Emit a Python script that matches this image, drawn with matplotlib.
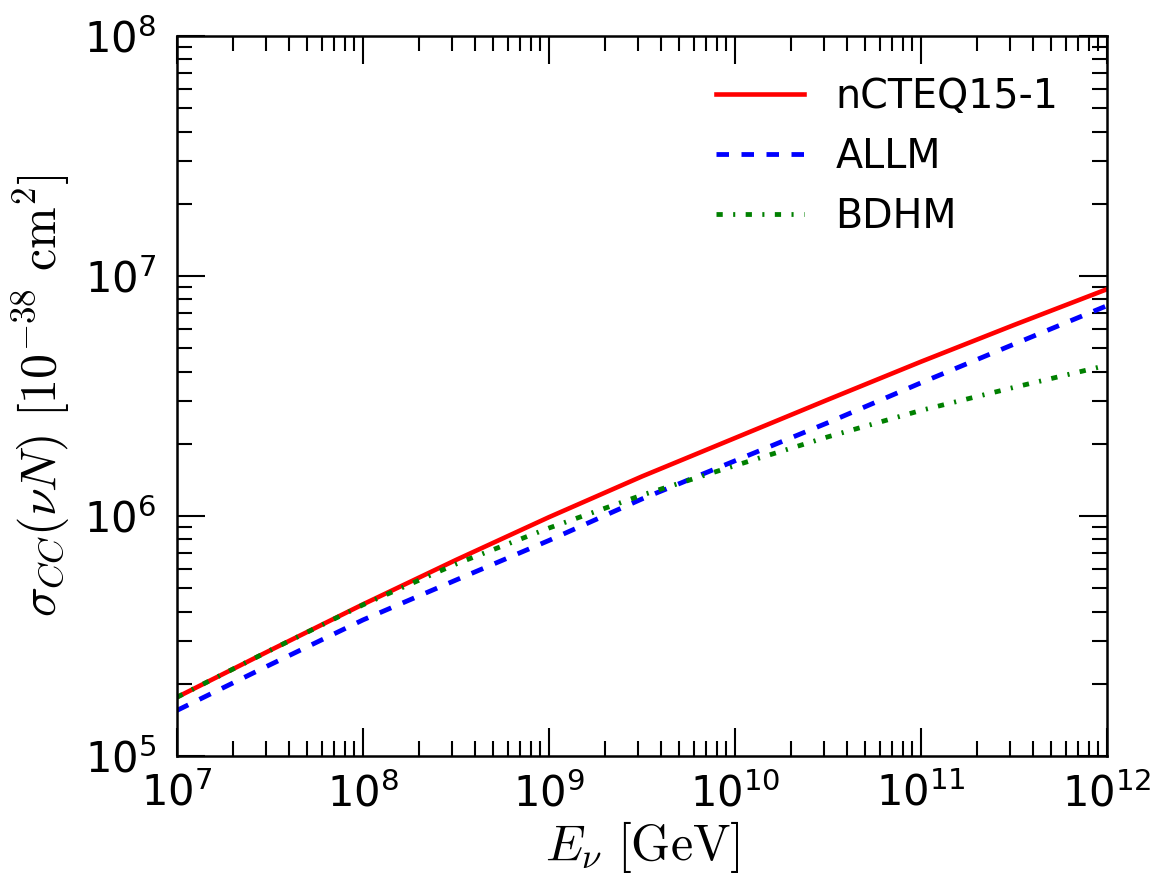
import numpy as np
import matplotlib
matplotlib.use("Agg")
import matplotlib.pyplot as plt
from matplotlib.ticker import LogLocator, LogFormatterMathtext

plt.rcParams['mathtext.fontset'] = 'cm'
plt.rcParams['font.family'] = ['DejaVu Sans']
plt.rcParams['lines.scale_dashes'] = False

# Data: log10 of energy [GeV] and cross sections [1e-38 cm^2]
logE = [7.0, 7.5, 8.0, 8.5, 9.0, 9.5, 10.0, 10.5, 11.0, 11.5, 12.0]
nCTEQ15_1 = [1.758e5, 2.754e5, 4.285e5, 6.56e5, 9.89e5, 1.462e6, 2.113e6, 3.055e6, 4.395e6, 6.25e6, 8.81e6]
ALLM = [1.549e5, 2.399e5, 3.69e5, 5.41e5, 7.91e5, 1.178e6, 1.698e6, 2.449e6, 3.589e6, 5.2e6, 7.52e6]
BDHM = [1.758e5, 2.754e5, 4.266e5, 6.31e5, 8.91e5, 1.222e6, 1.622e6, 2.138e6, 2.754e6, 3.436e6, 4.246e6]

energy = [10 ** v for v in logE]

fig = plt.figure(figsize=(1171 / 150, 893 / 150), dpi=150)
ax = fig.add_axes([177 / 1171, 1 - 756 / 893, (1107 - 177) / 1171, (756 - 36) / 893])

ax.plot(energy, nCTEQ15_1, color='r', lw=2.2, ls='-', label='nCTEQ15-1')
ax.plot(energy, ALLM, color='b', lw=2.3, ls=(0, (6, 6)), label='ALLM')
ax.plot(energy, BDHM, color='g', lw=2.3, ls=(0, (3, 5, 1, 5)), label='BDHM')

ax.set_xscale('log')
ax.set_yscale('log')
ax.set_xlim(1e7, 1e12)
ax.set_ylim(1e5, 1e8)

ax.xaxis.set_major_locator(LogLocator(base=10, numticks=20))
ax.yaxis.set_major_locator(LogLocator(base=10, numticks=20))
ax.xaxis.set_minor_locator(LogLocator(base=10, subs=np.arange(2, 10), numticks=20))
ax.yaxis.set_minor_locator(LogLocator(base=10, subs=np.arange(2, 10), numticks=20))
ax.xaxis.set_major_formatter(LogFormatterMathtext())
ax.yaxis.set_major_formatter(LogFormatterMathtext())

ax.tick_params(which='both', direction='in', top=True, right=True, width=1, labelsize=20)
ax.tick_params(which='major', length=13.5)
ax.tick_params(which='minor', length=7)
ax.tick_params(axis='x', pad=8)
ax.tick_params(axis='y', pad=10)
for s in ax.spines.values():
    s.set_linewidth(1.2)

ax.set_xlabel(r'$E_\nu\ [\mathrm{GeV}]$', fontsize=24, labelpad=2)
ax.set_ylabel(r'$\sigma_{CC}(\nu N)\ [10^{-38}\ \mathrm{cm}^2]$', fontsize=24, labelpad=6)

ax.legend(loc='upper right', bbox_to_anchor=(0.99, 0.998), frameon=False, fontsize=19,
          handlelength=2.2, handletextpad=0.8, labelspacing=0.5, borderaxespad=0.6)

fig.savefig('out.png', dpi=150)
